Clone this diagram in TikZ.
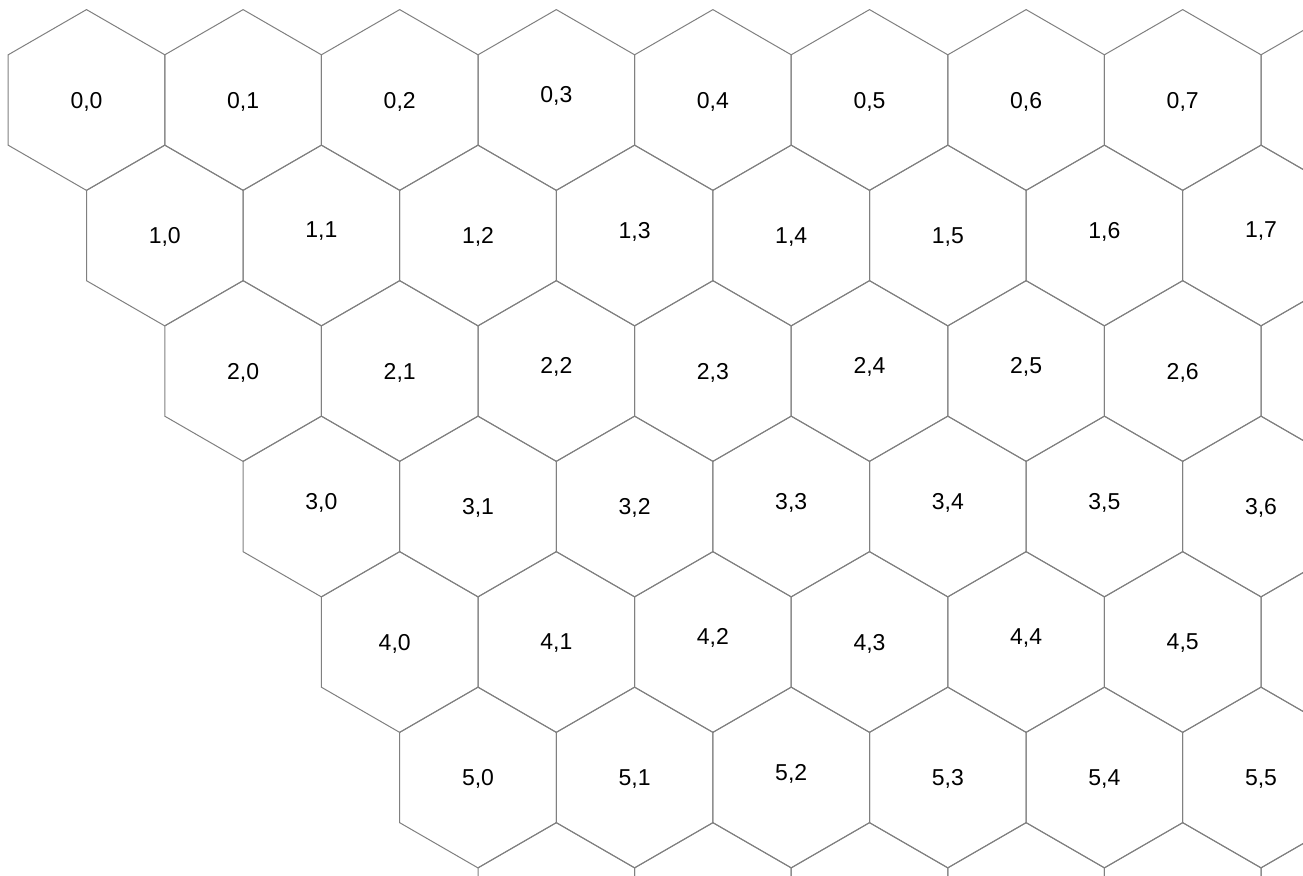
\documentclass[tikz,border=0pt]{standalone}
\usepackage{fontspec}
\setmainfont{Liberation Sans}
\tikzset{
  hexline/.style={draw=black!50, line width=1pt, line join=miter},
  lbl/.style={font=\fontsize{23}{23}\selectfont, inner sep=0pt, text=black}
}
\expandafter\def\csname hi-0-3\endcsname{}
\expandafter\def\csname hi-1-1\endcsname{}
\expandafter\def\csname hi-1-3\endcsname{}
\expandafter\def\csname hi-1-6\endcsname{}
\expandafter\def\csname hi-1-7\endcsname{}
\expandafter\def\csname hi-2-2\endcsname{}
\expandafter\def\csname hi-2-4\endcsname{}
\expandafter\def\csname hi-2-5\endcsname{}
\expandafter\def\csname hi-3-0\endcsname{}
\expandafter\def\csname hi-3-3\endcsname{}
\expandafter\def\csname hi-3-4\endcsname{}
\expandafter\def\csname hi-3-5\endcsname{}
\expandafter\def\csname hi-4-2\endcsname{}
\expandafter\def\csname hi-4-4\endcsname{}
\expandafter\def\csname hi-5-2\endcsname{}
\begin{document}
\begin{tikzpicture}[x=1pt,y=-1pt]
\useasboundingbox (0,0) rectangle (1303,875);
\fill[white] (0,0) rectangle (1303,875);
\begin{scope}
\clip (0,0) rectangle (1303,875);
\foreach \r in {0,...,6}{
  \foreach \c in {0,...,8}{
    \pgfmathsetmacro{\cx}{86.5+156.6*\c+78.3*\r}
    \pgfmathsetmacro{\cy}{100+135.5*\r}
    \draw[hexline] (\cx,\cy-90.4) -- ++(78.3,45.2) -- ++(0,90.4) -- ++(-78.3,45.2)
      -- ++(-78.3,-45.2) -- ++(0,-90.4) -- cycle;
  }
}
\end{scope}
\foreach \r/\n in {0/7,1/7,2/6,3/6,4/5,5/5}{
  \foreach \c in {0,...,\n}{
    \pgfmathsetmacro{\cx}{86.5+156.6*\c+78.3*\r}
    \pgfmathsetmacro{\cy}{100+135.5*\r}
    \ifcsname hi-\r-\c\endcsname \def\dy{-4}\else\def\dy{1.5}\fi
    \def\dx{0}
    \ifnum\r=4 \ifnum\c=0 \def\dx{-5}\fi\fi
    \node[lbl] (l-\r-\c) at (\cx+\dx,\cy+\dy) {\r,\c};
  }
}
\end{tikzpicture}
\end{document}
